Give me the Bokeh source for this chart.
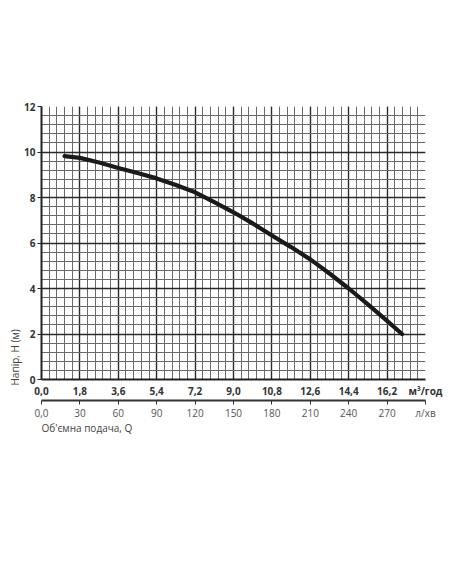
import math
from bokeh.plotting import figure
from bokeh.models import (Range1d, LinearAxis, FixedTicker, Title)
from bokeh.embed import file_html
from bokeh.resources import INLINE

# Curve data (flow m3/h, head m)
flow_m3h = [1.08, 1.8, 2.7, 3.6, 4.5, 5.4, 6.3, 7.2, 8.1, 9.0, 9.9, 10.8, 11.7, 12.6, 13.5, 14.4, 15.3, 16.2, 16.9]
head_m = [9.82, 9.74, 9.54, 9.3, 9.08, 8.84, 8.55, 8.23, 7.8, 7.35, 6.86, 6.33, 5.82, 5.28, 4.66, 4.0, 3.3, 2.58, 2.0]

x_ticks_m3h = [0, 1.8, 3.6, 5.4, 7.2, 9.0, 10.8, 12.6, 14.4, 16.2, 18.0]
x_tick_labels = ["0,0", "1,8", "3,6", "5,4", "7,2", "9,0", "10,8", "12,6", "14,4", "16,2", "м³/год"]
q_ticks_lmin = [0, 30, 60, 90, 120, 150, 180, 210, 240, 270, 300]
q_tick_labels = ["0,0", "30", "60", "90", "120", "150", "180", "210", "240", "270", "л/хв"]
y_ticks = [0, 2, 4, 6, 8, 10, 12]
y_label = "Напір, H (м)"
x_label = "Об'ємна подача, Q"

FONT = "Open Sans"

p = figure(width=452, height=576, output_backend="svg", toolbar_location=None,
           x_range=Range1d(0, 18), y_range=Range1d(0, 12),
           min_border_left=41, min_border_right=27, min_border_top=106,
           min_border_bottom=197)
p.outline_line_color = None
p.background_fill_color = "white"

minor_x = [round(i * 0.36, 2) for i in range(51)]
minor_y = [round(i * 0.4, 2) for i in range(31)]
p.xgrid.ticker = FixedTicker(ticks=x_ticks_m3h, minor_ticks=minor_x)
p.ygrid.ticker = FixedTicker(ticks=y_ticks, minor_ticks=minor_y)
for g in (p.xgrid, p.ygrid):
    g.grid_line_color = "#2a2a2a"
    g.grid_line_width = 1.4
    g.minor_grid_line_color = "#6a6a6a"
    g.minor_grid_line_width = 1

# primary x axis
xa = p.xaxis[0]
xa.ticker = FixedTicker(ticks=x_ticks_m3h)
xa.major_label_overrides = {t: l for t, l in zip(x_ticks_m3h, x_tick_labels)}
xa.major_tick_out = 0
xa.major_tick_in = 0
xa.minor_tick_out = 0
xa.minor_tick_in = 0
xa.axis_line_color = "#222222"
xa.axis_line_width = 2
xa.major_label_text_font = FONT
xa.major_label_text_font_style = "bold"
xa.major_label_text_font_size = "10px"
xa.major_label_text_color = "#333333"
xa.major_label_standoff = 4

# y axis
ya = p.yaxis[0]
ya.ticker = FixedTicker(ticks=y_ticks)
ya.major_tick_out = 4
ya.major_tick_in = 0
ya.minor_tick_out = 0
ya.minor_tick_in = 0
ya.axis_line_color = "#222222"
ya.axis_line_width = 2
ya.major_tick_line_color = "#222222"
ya.major_label_text_font = FONT
ya.major_label_text_font_style = "bold"
ya.major_label_text_font_size = "10px"
ya.major_label_text_color = "#333333"
ya.major_label_standoff = 2

# secondary x axis (l/min)
p.extra_x_ranges = {"lmin": Range1d(0, 300)}
qa = LinearAxis(x_range_name="lmin", ticker=FixedTicker(ticks=q_ticks_lmin))
qa.major_label_overrides = {t: l for t, l in zip(q_ticks_lmin, q_tick_labels)}
qa.major_tick_out = 4
qa.major_tick_in = 0
qa.minor_tick_out = 0
qa.minor_tick_in = 0
qa.axis_line_color = "#333333"
qa.axis_line_width = 2
qa.major_tick_line_color = "#333333"
qa.major_label_text_font = FONT
qa.major_label_text_font_size = "10px"
qa.major_label_text_color = "#555555"
qa.major_label_standoff = 1
p.add_layout(qa, "below")

p.line(flow_m3h, head_m, line_width=4.2, line_color="#1a1a1a", line_cap="round", line_join="round")

p.add_layout(Title(text=y_label, align="left", offset=-6, standoff=0,
                   text_font=FONT, text_font_size="10px", text_font_style="normal",
                   text_color="#444444"), "left")
xt = Title(text=x_label, align="left", offset=0, standoff=0,
           text_font=FONT, text_font_size="10px", text_font_style="normal",
           text_color="#444444")
try:
    xt.standoff = -7
except Exception:
    pass
p.add_layout(xt, "below")

open("out.html", "w").write(file_html(p, INLINE))
